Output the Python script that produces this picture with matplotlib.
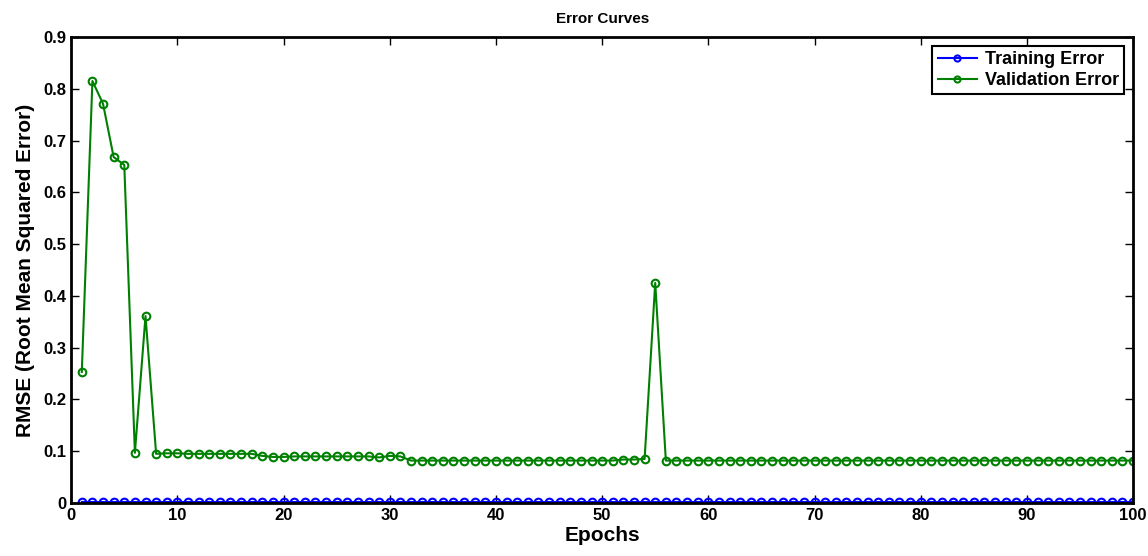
import matplotlib
matplotlib.use("Agg")
import matplotlib.pyplot as plt
import numpy as np

plt.rcParams['font.family'] = ['Liberation Sans', 'DejaVu Sans']

epochs = list(range(1, 101))
validation = ([0.253, 0.815, 0.771, 0.668, 0.653, 0.097, 0.361, 0.095, 0.096, 0.096,
               0.095, 0.095, 0.095, 0.095, 0.095, 0.095, 0.095, 0.091, 0.089, 0.089,
               0.090, 0.090, 0.090, 0.090, 0.090, 0.090, 0.090, 0.090, 0.088, 0.091,
               0.090] + [0.082] * 20 + [0.084, 0.084, 0.085, 0.425] + [0.082] * 45)
training = [0.001] * 100

fig = plt.figure(figsize=(11.48, 5.56), dpi=100)
ax = fig.add_axes([0.062, 0.0953, 0.925, 0.8382])

ax.plot(epochs, training, color='#0000ff', lw=1.5, marker='o', ms=5.5,
        mfc='none', mec='#0000ff', mew=1.5, label='Training Error')
ax.plot(epochs, validation, color='#008000', lw=1.5, marker='o', ms=5.5,
        mfc='none', mec='#008000', mew=1.5, label='Validation Error')

ax.set_xlim(0, 100)
ax.set_ylim(0, 0.9)
ax.set_xticks(np.arange(0, 101, 10))
ax.set_yticks(np.round(np.arange(0, 0.91, 0.1), 1))
ax.set_yticklabels(['0', '0.1', '0.2', '0.3', '0.4', '0.5', '0.6', '0.7', '0.8', '0.9'])
ax.tick_params(direction='in', top=True, right=True, length=6, width=1,
               labelsize=12)
for lab in ax.get_xticklabels() + ax.get_yticklabels():
    lab.set_fontweight('bold')
for s in ax.spines.values():
    s.set_linewidth(2)

ax.set_xlabel('Epochs', fontsize=15, fontweight='bold', labelpad=2)
ax.set_ylabel('RMSE (Root Mean Squared Error)', fontsize=15, fontweight='bold', labelpad=6)
ax.set_title('Error Curves', fontsize=11, fontweight='bold', pad=10)

leg = ax.legend(loc='upper right', fontsize=13, prop={'weight': 'bold', 'size': 13},
                fancybox=False, edgecolor='black', framealpha=1,
                borderaxespad=0.5, handlelength=2.2, handletextpad=0.4,
                borderpad=0.3, labelspacing=0.2, markerscale=0.8)
leg.get_frame().set_linewidth(1.5)

fig.savefig('out.png', dpi=100)
